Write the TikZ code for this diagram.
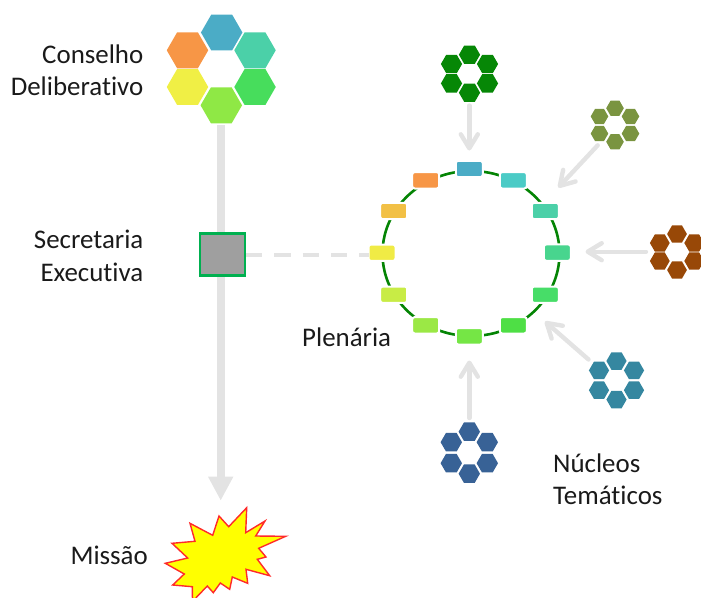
\documentclass[tikz,border=0pt]{standalone}
\usepackage{fontspec}
\setmainfont[Ligatures=NoCommon]{Carlito}
\usetikzlibrary{shapes.geometric,arrows.meta}
\definecolor{cBlue}{HTML}{4BACC6}
\definecolor{cOrange}{HTML}{F79646}
\definecolor{cTeal}{HTML}{4BD0A8}
\definecolor{cGreen}{HTML}{47DD5C}
\definecolor{cLime}{HTML}{8FE845}
\definecolor{cYellow}{HTML}{F0EF45}
\definecolor{arrowGrey}{HTML}{E3E3E3}
\definecolor{ringGreen}{HTML}{048404}
\definecolor{starRed}{HTML}{FF2A2A}
\definecolor{starFill}{HTML}{FFFF00}
\definecolor{secGreen}{HTML}{00B050}
\definecolor{secGrey}{HTML}{9F9F9F}
\definecolor{textCol}{HTML}{1A1A1A}
\tikzset{
  hexa/.style={regular polygon,regular polygon sides=6,draw=none,inner sep=0pt,outer sep=0pt},
  ringbox/.style={rectangle,rounded corners=2.5pt,draw=white,line width=2pt,minimum width=27pt,minimum height=16.4pt,inner sep=0pt,outer sep=0pt},
  label/.style={font=\fontsize{26.9}{32}\selectfont,text=textCol,inner sep=0pt},
  feed/.style={draw=arrowGrey,line width=4.4pt,line cap=round,-{Straight Barb[length=14pt,width=17pt,round]}},
}
% \cluster{prefix}{cx}{cy}{colour}{size}{dx}{dy1}{dy2}
\newcommand{\cluster}[8]{%
  \node[hexa,fill=#4,minimum size=#5pt] (#1a) at (#2,#3-#8) {};
  \node[hexa,fill=#4,minimum size=#5pt] (#1b) at (#2-#6,#3-#7) {};
  \node[hexa,fill=#4,minimum size=#5pt] (#1c) at (#2+#6,#3-#7) {};
  \node[hexa,fill=#4,minimum size=#5pt] (#1d) at (#2-#6,#3+#7) {};
  \node[hexa,fill=#4,minimum size=#5pt] (#1e) at (#2+#6,#3+#7) {};
  \node[hexa,fill=#4,minimum size=#5pt] (#1f) at (#2,#3+#8) {};
}
\begin{document}
\begin{tikzpicture}[x=1pt,y=-1pt]
\useasboundingbox (0,0) rectangle (701,597);
% Conselho hexagons
\node[hexa,fill=cBlue,minimum size=41.5pt] (hBlue) at (221.7,32.5) {};
\node[hexa,fill=cOrange,minimum size=41.5pt] (hOrange) at (187.5,50.3) {};
\node[hexa,fill=cTeal,minimum size=41.5pt] (hTeal) at (255,50.3) {};
\node[hexa,fill=cYellow,minimum size=41.5pt] (hYellow) at (187.5,87) {};
\node[hexa,fill=cGreen,minimum size=41.5pt] (hGreen) at (255,87) {};
\node[hexa,fill=cLime,minimum size=41.5pt] (hLime) at (221.3,105.3) {};
% main arrow
\coordinate (mainStart) at (220.7,125);
\coordinate (mainEnd) at (220.7,500.7);
\draw[draw=arrowGrey,line width=8pt,-{Triangle[length=24pt,width=23.5pt]}] (mainStart) -- (mainEnd);
% secretaria
\node[rectangle,draw=secGreen,fill=secGrey,line width=2.3pt,minimum width=45pt,minimum height=42pt,inner sep=0pt,outer sep=0pt] (sec) at (222.2,254.5) {};
% ring
\coordinate (ringC) at (471,253.5);
\draw[ringGreen,line width=2.6pt] (ringC) ellipse [x radius=88.5,y radius=82.5];
\node[ringbox,fill={rgb,255:red,75;green,172;blue,198}] (r1) at (469.3,169) {};
\node[ringbox,fill={rgb,255:red,75;green,203;blue,198}] (r2) at (513.3,180.3) {};
\node[ringbox,fill={rgb,255:red,75;green,208;blue,168}] (r3) at (545.3,211) {};
\node[ringbox,fill={rgb,255:red,72;green,213;blue,142}] (r4) at (557.3,252.6) {};
\node[ringbox,fill={rgb,255:red,71;green,221;blue,104}] (r5) at (545.3,294.7) {};
\node[ringbox,fill={rgb,255:red,78;green,223;blue,69}] (r6) at (513.3,325.3) {};
\node[ringbox,fill={rgb,255:red,117;green,230;blue,69}] (r7) at (469.3,336.3) {};
\node[ringbox,fill={rgb,255:red,155;green,232;blue,69}] (r8) at (425.7,325.3) {};
\node[ringbox,fill={rgb,255:red,200;green,236;blue,69}] (r9) at (393.7,294.7) {};
\node[ringbox,fill={rgb,255:red,240;green,235;blue,69}] (r10) at (382,252.7) {};
\node[ringbox,fill={rgb,255:red,242;green,192;blue,69}] (r11) at (393.7,211) {};
\node[ringbox,fill={rgb,255:red,247;green,150;blue,70}] (r12) at (425.7,180.3) {};
% dashed link
\draw[draw=arrowGrey,line width=4pt,dash pattern=on 16.3pt off 12pt] (sec.east) ++(1.2,0) -- (sec.east -| r10.west);
% clusters
\cluster{g}{469.5}{73.7}{{rgb,255:red,6;green,135;blue,6}}{21.2}{18}{9.7}{19}
\cluster{o}{615}{125}{{rgb,255:red,122;green,148;blue,64}}{17.6}{15.5}{8.6}{16.8}
\cluster{b}{677}{252}{{rgb,255:red,152;green,72;blue,7}}{19.8}{17.2}{9}{18}
\cluster{t}{616.5}{380.3}{{rgb,255:red,53;green,135;blue,160}}{20.2}{17.5}{9.9}{19.3}
\cluster{n}{469.3}{452.7}{{rgb,255:red,56;green,98;blue,150}}{21.4}{18}{10.5}{21}
% feed arrows
\coordinate (gS) at (469.3,105.5);
\coordinate (gE) at (469.3,150.5);
\coordinate (oS) at (597.7,145.3);
\coordinate (oE) at (558.3,187.5);
\coordinate (bS) at (646,251.7);
\coordinate (bE) at (585.5,251.7);
\coordinate (tS) at (588.5,359.5);
\coordinate (tE) at (545,321.5);
\coordinate (nS) at (469.3,418);
\coordinate (nE) at (469.3,360.5);
\draw[feed] (gS) -- (gE);
\draw[feed] (oS) -- (oE);
\draw[feed] (bS) -- (bE);
\draw[feed] (tS) -- (tE);
\draw[feed] (nS) -- (nE);
% star
\draw[starRed,fill=starFill,line width=1.4pt,line join=miter]
 (219,516) -- (228.7,526.7) -- (246.7,507.7) -- (245.7,532.7) -- (265,521) -- (255.7,536) -- (285.7,536.3)
 -- (258.7,548.3) -- (266,557) -- (257.3,559.3) -- (269.7,575.7) -- (246,569.3) -- (247.7,583.3)
 -- (232.3,577) -- (229.7,589.3) -- (220.3,583) -- (213.3,592.7) -- (207.3,586) -- (196.7,597) -- (194,601) -- (192.3,597)
 -- (192.3,586.7) -- (172.7,585) -- (184.3,574) -- (165.3,563.3) -- (187.7,558) -- (172,543.3)
 -- (195,541.3) -- (190,523.3) -- (212.7,535.3) -- cycle;
% labels
\node[label,anchor=base east] (tConselho) at (143.5,63) {Conselho};
\node[label,anchor=base east] (tDelib) at (143.5,95) {Deliberativo};
\node[label,anchor=base east] (tSec) at (143.5,248.5) {Secretaria};
\node[label,anchor=base east] (tExec) at (143.5,281.5) {Executiva};
\node[label,anchor=base west] (tPlen) at (302,346.5) {Plenária};
\node[label,anchor=base west] (tNuc) at (553,472.5) {Núcleos};
\node[label,anchor=base west] (tTem) at (553,504.5) {Temáticos};
\node[label,anchor=base east] (tMis) at (148,564.5) {Missão};
\end{tikzpicture}
\end{document}
